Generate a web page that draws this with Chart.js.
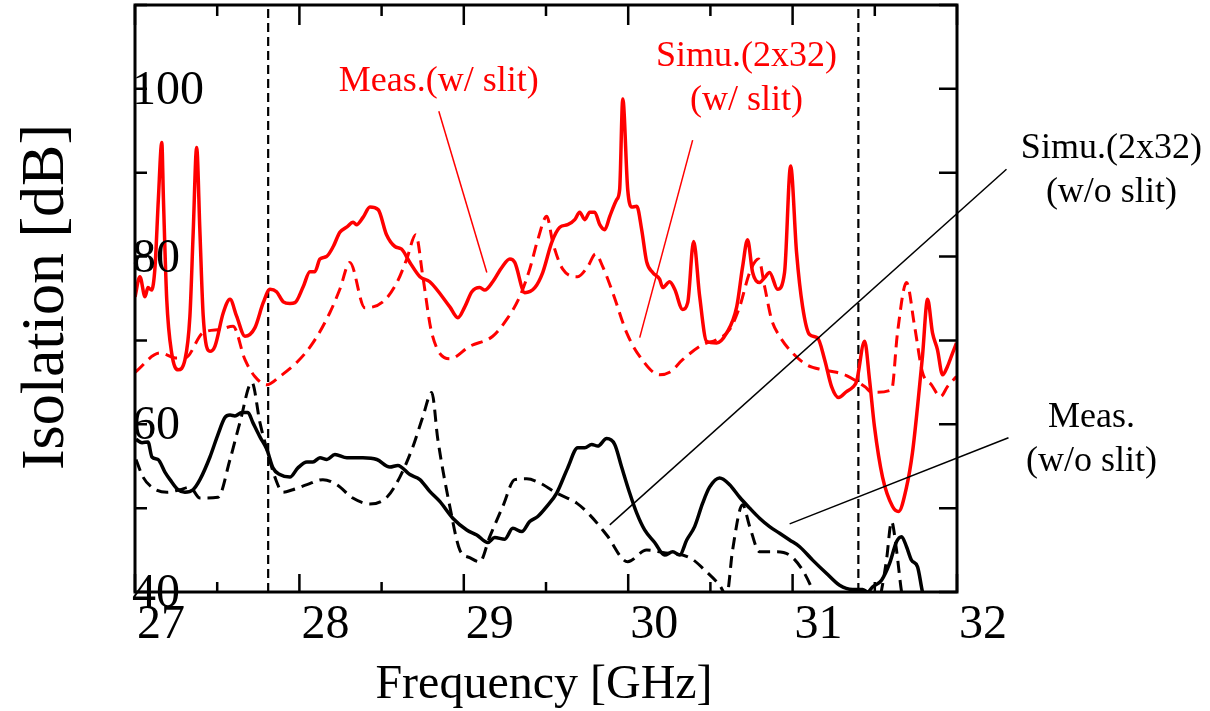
<!DOCTYPE html>
<html><head><meta charset="utf-8">
<script src="https://cdn.jsdelivr.net/npm/chart.js@4.4.0/dist/chart.umd.min.js"></script>
<style>html,body{margin:0;padding:0;background:#fff;}canvas{display:block;}</style>
</head><body>
<canvas id="c" width="1210" height="711" style="width:1210px;height:711px"></canvas>
<script>
// ---- data ----
const measSlitF = [27.000,27.030,27.061,27.079,27.101,27.122,27.142,27.163,27.173,27.193,27.223,27.263,27.304,27.334,27.354,27.375,27.395,27.415,27.456,27.486,27.537,27.578,27.618,27.669,27.729,27.780,27.821,27.861,27.902,27.942,27.973,28.023,28.064,28.094,28.125,28.165,28.206,28.246,28.287,28.327,28.347,28.388,28.429,28.479,28.530,28.581,28.621,28.672,28.733,28.793,28.915,28.964,29.006,29.049,29.097,29.128,29.176,29.231,29.280,29.310,29.371,29.432,29.480,29.535,29.584,29.632,29.675,29.705,29.736,29.766,29.796,29.827,29.857,29.888,29.930,29.948,29.967,29.997,30.021,30.052,30.082,30.112,30.149,30.191,30.210,30.252,30.283,30.331,30.362,30.398,30.435,30.477,30.538,30.599,30.660,30.696,30.726,30.757,30.799,30.830,30.860,30.909,30.951,30.988,31.024,31.061,31.103,31.152,31.195,31.237,31.280,31.328,31.365,31.389,31.438,31.468,31.498,31.547,31.608,31.644,31.693,31.729,31.760,31.790,31.821,31.851,31.881,31.912,31.942,31.973,31.997];
const measSlitV = [75.2,77.6,75.2,76.3,76.0,78.8,86.8,93.6,86.8,74.9,68.5,66.5,67.7,72.9,82.9,93.0,82.9,72.9,68.7,69.3,73.3,74.9,72.9,70.5,71.5,74.5,76.1,75.8,74.6,74.4,74.5,76.4,78.2,78.2,79.7,80.0,81.2,82.9,83.5,84.1,83.8,84.7,85.9,85.6,82.6,81.2,80.9,79.3,77.6,77.0,74.0,72.7,74.0,75.8,76.3,76.0,77.0,78.7,79.7,79.3,75.7,76.3,78.1,81.7,83.5,83.8,84.4,85.3,84.4,85.3,85.3,83.8,83.2,84.8,86.8,88.0,98.8,88.0,85.9,86.0,83.2,79.4,78.1,77.3,76.3,77.0,76.1,73.7,74.5,81.8,75.2,69.9,69.7,70.9,74.0,78.8,82.0,78.1,76.9,77.5,78.1,76.1,78.1,90.8,80.5,74.0,70.7,70.3,67.7,64.5,63.2,63.9,64.4,65.1,69.9,65.3,59.7,53.7,50.2,49.6,52.5,56.6,62.1,68.1,74.9,70.9,68.9,65.9,66.9,68.5,69.7];

const simSlitF = [27.000,27.152,27.255,27.304,27.413,27.517,27.596,27.669,27.729,27.802,27.881,27.985,28.082,28.185,28.246,28.307,28.398,28.508,28.593,28.653,28.708,28.751,28.805,28.915,29.036,29.176,29.261,29.340,29.401,29.450,29.505,29.541,29.602,29.693,29.754,29.802,29.845,29.906,29.991,30.070,30.191,30.252,30.331,30.453,30.538,30.617,30.678,30.739,30.793,30.830,30.872,30.921,31.000,31.085,31.182,31.267,31.328,31.438,31.486,31.602,31.638,31.693,31.742,31.790,31.845,31.900,31.942,31.997];
const simSlitV = [66.2,68.5,67.9,67.9,70.9,71.3,71.7,67.7,65.7,64.7,65.7,67.4,69.7,73.3,76.1,79.3,73.9,74.6,76.9,79.7,82.6,77.6,70.9,67.8,69.3,70.5,72.5,75.2,78.5,82.0,84.8,81.7,78.5,77.6,78.8,80.3,78.8,75.7,70.9,68.1,65.9,66.2,67.7,69.5,70.1,71.3,74.0,78.1,79.7,76.4,72.5,70.5,68.5,67.1,66.5,66.2,65.8,64.5,63.8,64.1,70.9,76.9,71.7,66.2,64.7,63.3,64.5,65.7];

const measNoSlitF = [27.006,27.043,27.079,27.103,27.140,27.182,27.213,27.261,27.304,27.353,27.395,27.456,27.505,27.547,27.578,27.608,27.650,27.687,27.717,27.760,27.802,27.839,27.881,27.942,27.991,28.046,28.082,28.125,28.167,28.216,28.289,28.386,28.471,28.550,28.599,28.672,28.733,28.793,28.854,28.933,29.018,29.079,29.146,29.188,29.249,29.298,29.353,29.401,29.450,29.505,29.565,29.632,29.693,29.736,29.778,29.815,29.869,29.918,29.960,30.009,30.052,30.100,30.161,30.222,30.271,30.313,30.356,30.404,30.453,30.495,30.556,30.617,30.678,30.739,30.799,30.860,30.921,30.982,31.043,31.122,31.207,31.286,31.365,31.426,31.456,31.486,31.541,31.590,31.632,31.663,31.693,31.723,31.760,31.790,31.833];
const measNoSlitV = [58.2,57.8,57.9,56.1,55.8,54.3,53.4,52.2,51.9,52.2,53.4,56.1,58.8,60.8,61.1,61.0,61.4,61.4,60.2,58.5,57.0,54.8,54.0,53.7,54.8,55.5,55.5,56.0,55.8,56.4,56.0,56.0,55.8,54.9,55.1,54.0,53.4,52.0,50.8,48.8,47.4,46.8,45.9,46.5,46.3,47.6,47.2,48.4,49.0,50.2,51.8,54.8,57.2,57.2,57.6,57.4,58.3,57.6,54.9,51.8,49.4,47.4,45.9,44.4,44.8,44.4,46.2,47.8,50.6,52.5,53.6,52.8,51.3,50.0,48.8,47.8,47.0,46.2,45.4,43.8,42.2,40.8,40.3,40.3,40.0,40.6,41.4,43.4,46.0,46.6,45.4,43.8,43.0,40.0,37.0];

const simNoSlitF = [27.006,27.049,27.109,27.195,27.274,27.334,27.395,27.505,27.578,27.638,27.711,27.760,27.802,27.851,27.900,27.960,28.046,28.143,28.228,28.325,28.429,28.532,28.611,28.690,28.751,28.805,28.842,28.915,28.976,29.036,29.097,29.158,29.237,29.310,29.383,29.462,29.565,29.687,29.766,29.869,29.997,30.112,30.210,30.374,30.477,30.556,30.599,30.635,30.696,30.739,30.799,30.903,30.982,31.061,31.122,31.164,31.347,31.517,31.541,31.571,31.602,31.632,31.663,31.699];
const simNoSlitV = [55.8,53.7,52.4,51.9,52.2,52.5,51.2,51.3,55.8,60.2,65.0,60.2,57.0,53.7,51.9,52.2,52.8,53.4,52.8,51.2,50.5,51.3,53.7,57.3,60.9,63.8,58.2,50.2,45.0,44.1,43.6,46.6,50.2,53.4,53.5,53.0,51.8,50.6,49.2,46.8,43.6,45.0,44.7,44.1,42.4,40.8,39.6,45.0,50.4,47.8,44.8,44.8,44.4,42.6,40.2,38.0,37.0,38.0,40.2,43.8,48.4,45.0,40.0,37.0];

const bandEdgesF = [27.81, 31.40];
const xTickValues = [27, 28, 29, 30, 31, 32];
const yTickValues = [40, 60, 80, 100];
const xTitle = 'Frequency [GHz]';
const yTitle = 'Isolation [dB]';

// annotation anchors in data units (x GHz, y dB)
const labelTexts = [
  {lines:['Meas.(w/ slit)'], x:28.848, y:99.73, color:'#ff0000'},
  {lines:['Simu.(2x32)','(w/ slit)'], x:30.720, y:102.72, color:'#ff0000'},
  {lines:['Simu.(2x32)','(w/o slit)'], x:32.939, y:91.73, color:'#000000'},
  {lines:['Meas.','(w/o slit)'], x:32.818, y:59.71, color:'#000000'}
];
const leaderLines = [
  {x1:28.848, y1:97.34, x2:29.140, y2:78.11, color:'#ff0000'},
  {x1:30.392, y1:93.88, x2:30.070, y2:70.34, color:'#ff0000'},
  {x1:32.301, y1:90.41, x2:29.888, y2:48.00, color:'#000000'},
  {x1:32.313, y1:58.40, x2:30.982, y2:48.12, color:'#000000'}
];

const pts = (F, V) => F.map((f, i) => ({x: f, y: V[i]}));
const SERIF = '"Liberation Serif","Times New Roman",serif';

const deco = {
  id: 'deco',
  beforeDraw(c) {
    const ctx = c.ctx; ctx.save(); ctx.fillStyle = '#fff'; ctx.fillRect(0, 0, c.width, c.height); ctx.restore();
  },
  afterDraw(c) {
    const {ctx, chartArea: a} = c;
    const xs = c.scales.x, ys = c.scales.y;
    ctx.save();
    // leader lines
    ctx.lineWidth = 1.5;
    leaderLines.forEach(l => {
      ctx.strokeStyle = l.color;
      ctx.beginPath();
      ctx.moveTo(xs.getPixelForValue(l.x1), ys.getPixelForValue(l.y1));
      ctx.lineTo(xs.getPixelForValue(l.x2), ys.getPixelForValue(l.y2));
      ctx.stroke();
    });
    // frame
    ctx.strokeStyle = '#000'; ctx.lineWidth = 3;
    ctx.strokeRect(a.left, a.top, a.right - a.left, a.bottom - a.top);
    // ticks
    ctx.lineWidth = 2.5;
    ctx.beginPath();
    for (let f = 27; f <= 32.001; f += 0.5) {
      const px = xs.getPixelForValue(f);
      const major = Math.abs(f - Math.round(f)) < 1e-6;
      ctx.moveTo(px, a.bottom); ctx.lineTo(px, a.bottom - (major ? 18 : 10));
      ctx.moveTo(px, a.top); ctx.lineTo(px, a.top + (major ? 20 : 11));
    }
    for (let v = 40; v <= 110.001; v += 10) {
      const py = ys.getPixelForValue(v);
      ctx.moveTo(a.left, py); ctx.lineTo(a.left + 12, py);
      ctx.moveTo(a.right, py); ctx.lineTo(a.right - 18, py);
    }
    ctx.stroke();
    // tick labels
    ctx.fillStyle = '#000';
    ctx.font = '48px ' + SERIF;
    ctx.textAlign = 'left'; ctx.textBaseline = 'alphabetic';
    yTickValues.forEach(v => ctx.fillText(String(v), a.left - 3, ys.getPixelForValue(v) + 15));
    xTickValues.forEach(v => ctx.fillText(String(v), xs.getPixelForValue(v) + 2, a.bottom + 46));
    // axis titles
    ctx.textAlign = 'center';
    ctx.fillText(xTitle, 544, 698);
    ctx.save();
    ctx.font = '62px ' + SERIF;
    ctx.translate(63, 297); ctx.rotate(-Math.PI / 2);
    ctx.fillText(yTitle, 0, 0);
    ctx.restore();
    // annotations
    ctx.font = '36px ' + SERIF;
    labelTexts.forEach(t => {
      ctx.fillStyle = t.color;
      const px = xs.getPixelForValue(t.x), py = ys.getPixelForValue(t.y);
      t.lines.forEach((s, i) => ctx.fillText(s, px, py + i * 44));
    });
    ctx.restore();
  }
};

const common = {pointRadius: 0, pointHoverRadius: 0, fill: false, clip: 0};
const smooth = {cubicInterpolationMode: 'monotone'};
new Chart(document.getElementById('c'), {
  type: 'line',
  data: {
    datasets: [
      {...common, ...smooth, label: 'Meas.(w/ slit)', data: pts(measSlitF, measSlitV), borderColor: '#ff0000', borderWidth: 3.5},
      {...common, ...smooth, label: 'Simu.(2x32)(w/ slit)', data: pts(simSlitF, simSlitV), borderColor: '#ff0000', borderWidth: 3, borderDash: [12, 7]},
      {...common, ...smooth, label: 'Meas.(w/o slit)', data: pts(measNoSlitF, measNoSlitV), borderColor: '#000000', borderWidth: 3.5},
      {...common, ...smooth, label: 'Simu.(2x32)(w/o slit)', data: pts(simNoSlitF, simNoSlitV), borderColor: '#000000', borderWidth: 3, borderDash: [12, 7]},
      {...common, tension: 0, label: 'edge1', data: [{x: bandEdgesF[0], y: 40}, {x: bandEdgesF[0], y: 110}], borderColor: '#000', borderWidth: 2.2, borderDash: [9, 5]},
      {...common, tension: 0, label: 'edge2', data: [{x: bandEdgesF[1], y: 40}, {x: bandEdgesF[1], y: 110}], borderColor: '#000', borderWidth: 2.2, borderDash: [9, 5]}
    ]
  },
  options: {
    responsive: false, animation: false, devicePixelRatio: 1,
    layout: {padding: {left: 135, top: 5, right: 253, bottom: 119}},
    plugins: {legend: {display: false}, tooltip: {enabled: false}},
    scales: {
      x: {type: 'linear', min: 27, max: 32, display: false},
      y: {type: 'linear', min: 40, max: 110, display: false}
    }
  },
  plugins: [deco]
});
</script>
</body></html>
